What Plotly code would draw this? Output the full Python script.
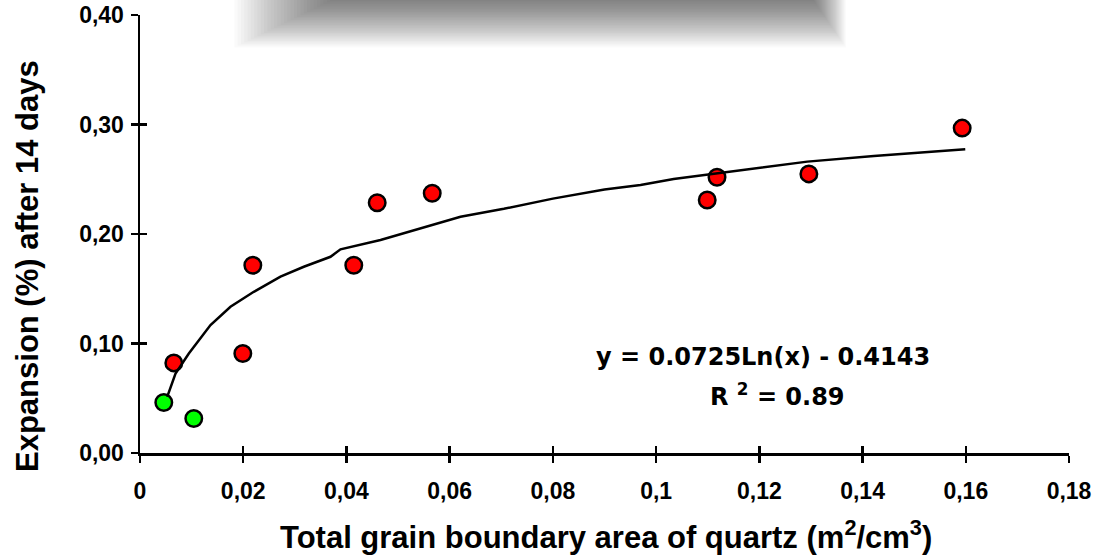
import plotly.graph_objects as go

# ---- data ----
red_x = [0.00655, 0.01992, 0.02186, 0.04142, 0.04596, 0.05662, 0.1099, 0.1118, 0.1296, 0.1593]
red_y = [0.0823, 0.0909, 0.1714, 0.1714, 0.2286, 0.2372, 0.2311, 0.2518, 0.2549, 0.2967]
green_x = [0.00461, 0.01042]
green_y = [0.0461, 0.0315]

trend_x = [0.00527, 0.00688, 0.00946, 0.01366, 0.01753, 0.02205, 0.02722, 0.03174, 0.03691,
           0.03885, 0.0466, 0.05499, 0.0621, 0.0705, 0.08, 0.09, 0.09698, 0.1034, 0.1118,
           0.1293, 0.1422, 0.1599]
trend_y = [0.0512, 0.0726, 0.0909, 0.1168, 0.1335, 0.1472, 0.1610, 0.1701, 0.1792,
           0.1860, 0.1945, 0.2061, 0.2158, 0.2230, 0.2323, 0.2407, 0.2448, 0.2503, 0.2555,
           0.2661, 0.2713, 0.2775]

x_tickvals = [0, 0.02, 0.04, 0.06, 0.08, 0.1, 0.12, 0.14, 0.16, 0.18]
x_ticktext = ["0", "0,02", "0,04", "0,06", "0,08", "0,1", "0,12", "0,14", "0,16", "0,18"]
y_tickvals = [0, 0.1, 0.2, 0.3, 0.4]
y_ticktext = ["0,00", "0,10", "0,20", "0,30", "0,40"]

equation_text = "y = 0.0725Ln(x) - 0.4143"
r2_text = "R <sup>2</sup> = 0.89"
x_title = "Total grain boundary area of quartz (m<sup>2</sup>/cm<sup>3</sup>)"
y_title = "Expansion (%) after 14 days"

FONT = "Liberation Sans, Arial, sans-serif"
WIDE = "DejaVu Sans, Liberation Sans, sans-serif"
W, H = 1094, 559
ML, MR, MT, MB = 140, 25, 15, 106
PW, PH = W - ML - MR, H - MT - MB


def px_x(p):
    return (p - ML) / PW


def px_y(p):
    return (H - MB - p) / PH


def bold(t):
    return "<b>" + t + "</b>"


fig = go.Figure()

fig.add_trace(go.Scatter(
    x=green_x, y=green_y, mode="markers",
    marker=dict(color="#00ff00", size=16.5, line=dict(color="black", width=2.5)),
    showlegend=False, hoverinfo="skip"))
fig.add_trace(go.Scatter(
    x=red_x, y=red_y, mode="markers",
    marker=dict(color="#ff0000", size=16.5, line=dict(color="black", width=2.5)),
    showlegend=False, hoverinfo="skip"))
fig.add_trace(go.Scatter(
    x=trend_x, y=trend_y, mode="lines",
    line=dict(color="black", width=2.5),
    showlegend=False, hoverinfo="skip"))
# invisible trace to anchor the overlay axes (inside half of crossing ticks)
fig.add_trace(go.Scatter(
    x=[x_tickvals[0]], y=[y_tickvals[0]], mode="markers", marker=dict(opacity=0),
    xaxis="x2", yaxis="y2", showlegend=False, hoverinfo="skip"))

tickfont = dict(family=FONT, size=23, color="black")

fig.update_layout(
    width=W, height=H,
    margin=dict(l=ML, r=MR, t=MT, b=MB, autoexpand=False),
    paper_bgcolor="white", plot_bgcolor="white",
    font=dict(family=FONT, color="black"),
    xaxis=dict(range=[0, 0.18], tickvals=x_tickvals, ticktext=[bold(t) for t in x_ticktext],
               showgrid=False, zeroline=False, showline=True, linecolor="black", linewidth=2.5,
               ticks="outside", ticklen=7, tickwidth=2.5, tickcolor="black",
               tickfont=tickfont, ticklabelstandoff=9, automargin=False),
    yaxis=dict(range=[0, 0.40], tickvals=y_tickvals, ticktext=[bold(t) for t in y_ticktext],
               showgrid=False, zeroline=False, showline=True, linecolor="black", linewidth=2.5,
               ticks="outside", ticklen=7, tickwidth=2.5, tickcolor="black",
               tickfont=tickfont, ticklabelstandoff=2, automargin=False),
    xaxis2=dict(range=[0, 0.18], tickvals=x_tickvals, overlaying="x", side="bottom",
                showgrid=False, zeroline=False, showline=False, showticklabels=False,
                ticks="inside", ticklen=7, tickwidth=2.5, tickcolor="black", automargin=False),
    yaxis2=dict(range=[0, 0.40], tickvals=y_tickvals, overlaying="y", side="left",
                showgrid=False, zeroline=False, showline=False, showticklabels=False,
                ticks="inside", ticklen=7, tickwidth=2.5, tickcolor="black", automargin=False),
)

# axis titles and equation as annotations
fig.add_annotation(text=bold(x_title), xref="paper", yref="paper", x=px_x(606), y=px_y(535),
                   xanchor="center", yanchor="middle", showarrow=False,
                   font=dict(family=FONT, size=31, color="black"))
fig.add_annotation(text=bold(y_title), xref="paper", yref="paper", x=px_x(27), y=px_y(266),
                   xanchor="center", yanchor="middle", showarrow=False, textangle=-90,
                   font=dict(family=FONT, size=31, color="black"))
fig.add_annotation(text=bold(equation_text), xref="paper", yref="paper",
                   x=px_x(763), y=px_y(357), xanchor="center", yanchor="middle", showarrow=False,
                   font=dict(family=WIDE, size=24, color="black"))
fig.add_annotation(text=bold(r2_text), xref="paper", yref="paper",
                   x=px_x(777), y=px_y(395), xanchor="center", yanchor="middle", showarrow=False,
                   font=dict(family=WIDE, size=24, color="black"))

# blurred grey shadow at the top (cut-off legend box shadow)
N = 30
for i in range(N):
    fig.add_shape(type="rect", xref="paper", yref="paper",
                  x0=px_x(330 - 3.3 * i), x1=px_x(814 + 1.1 * i),
                  y0=px_y(1 + 1.6 * i), y1=px_y(-20),
                  line=dict(width=0), fillcolor="black", opacity=0.018, layer="above")

fig.write_html("out.html",
               config={"displayModeBar": False, "staticPlot": True},
               post_script="document.body.style.margin='0';document.body.style.overflow='hidden';")
